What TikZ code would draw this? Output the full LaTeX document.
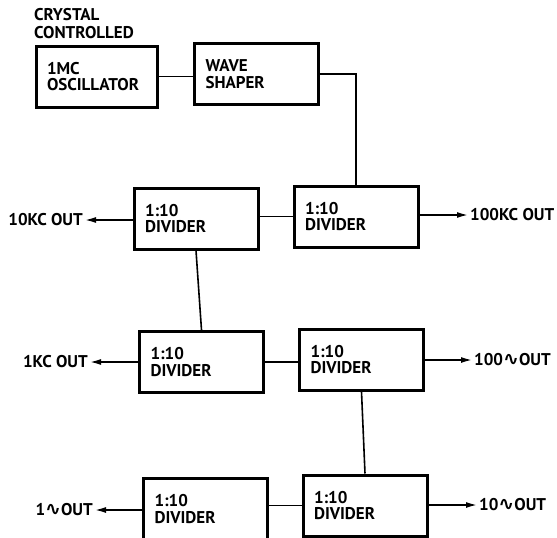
\documentclass[tikz,border=0pt]{standalone}
\usepackage{fontspec}
\setmainfont{PT Sans}
\newfontfamily\dv{DejaVu Sans}
\usetikzlibrary{arrows.meta}
\newcommand{\cyc}{{\dv\bfseries\fontsize{19}{19}\selectfont ∿}}
\begin{document}
\begin{tikzpicture}[x=1pt,y=-1pt,
  font=\fontsize{17}{16.5}\selectfont\bfseries,
  blk/.style={draw, line width=3pt, minimum height=61pt, inner xsep=11pt,
    inner ysep=0pt, text width=102pt, align=left},
  wire/.style={line width=1.6pt},
  outarrow/.style={wire, -{Latex[length=11pt,width=6pt]}},
  lbl/.style={inner sep=2pt}]
\useasboundingbox (0,0) rectangle (557,538);
% title
\node[lbl, anchor=west, align=left, font=\fontsize{17}{18}\selectfont\bfseries] (title) at (32,24) {CRYSTAL\\CONTROLLED};
% blocks
\node[blk, minimum width=121pt, text width=99pt] (osc) at (96.5,76.5) {1MC\\OSCILLATOR};
\node[blk, minimum width=123pt] (ws) at (256.5,74) {WAVE\\SHAPER};
\node[blk] (d1L) at (196,218.5) {1:10\\DIVIDER};
\node[blk] (d1R) at (356,216.5) {1:10\\DIVIDER};
\node[blk] (d2L) at (201.5,362) {1:10\\DIVIDER};
\node[blk] (d2R) at (361.5,359.5) {1:10\\DIVIDER};
\node[blk] (d3L) at (205.5,509) {1:10\\DIVIDER};
\node[blk] (d3R) at (365,505.5) {1:10\\DIVIDER};
% output labels
\node[lbl, anchor=east] (o1) at (85,220) {10KC OUT};
\node[lbl, anchor=west] (o2) at (468,215) {100KC OUT};
\node[lbl, anchor=east] (o3) at (90,362) {1KC OUT};
\node[lbl, anchor=west] (o4) at (472,360) {100\cyc OUT};
\node[lbl, anchor=east] (o5) at (95,510) {1\cyc OUT};
\node[lbl, anchor=west] (o6) at (477,505) {10\cyc OUT};
% chain connectors
\draw[wire] (osc.east) -- (osc.east -| ws.west);
\draw[wire] (ws.east) -| (d1R.north);
\draw[wire] (d1R.west) -- (d1R.west -| d1L.east);
\draw[wire] (d1L.south) -- (d2L.north);
\draw[wire] (d2L.east) -- (d2L.east -| d2R.west);
\draw[wire] (d2R.south) -- (d3R.north);
\draw[wire] (d3R.west) -- (d3R.west -| d3L.east);
% outputs
\draw[outarrow] (o1 -| d1L.west) -- (o1.east);
\draw[outarrow] (o2 -| d1R.east) -- (o2.west);
\draw[outarrow] (o3 -| d2L.west) -- (o3.east);
\draw[outarrow] (o4 -| d2R.east) -- (o4.west);
\draw[outarrow] (o5 -| d3L.west) -- (o5.east);
\draw[outarrow] (o6 -| d3R.east) -- (o6.west);
\end{tikzpicture}
\end{document}
